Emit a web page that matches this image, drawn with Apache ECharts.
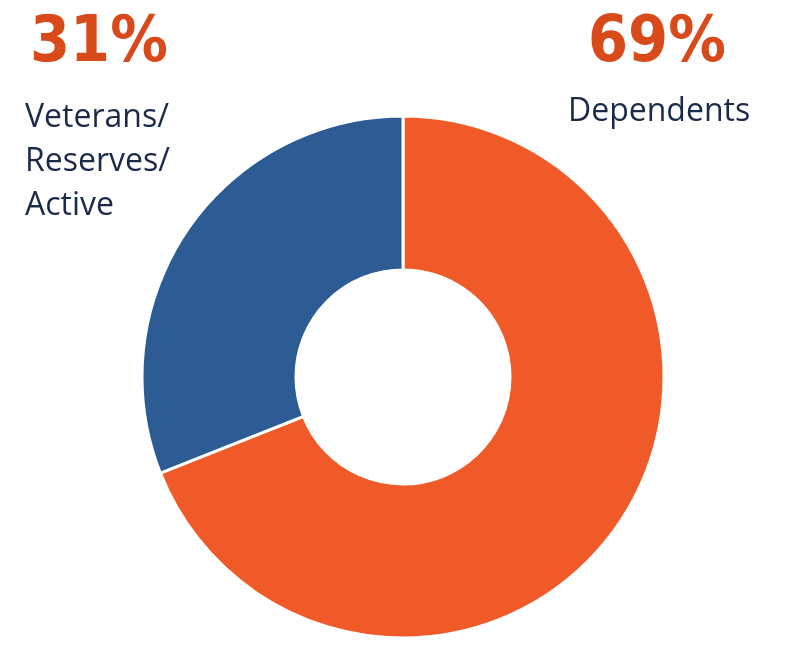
<!DOCTYPE html>
<html><head><meta charset="utf-8">
<script src="https://cdn.jsdelivr.net/npm/echarts@6/dist/echarts.min.js"></script>
<style>html,body{margin:0;padding:0;background:#fff}#c{width:800px;height:666px}</style>
</head><body><div id="c"></div>
<script>
const categories = ['Dependents', 'Veterans/\nReserves/\nActive'];
const values = [69, 31];
const colors = ['#F05A28', '#2D5B94'];
const chart = echarts.init(document.getElementById('c'));
chart.setOption({
  animation: false,
  series: [{
    type: 'pie',
    center: [403, 377],
    radius: [107, 261],
    startAngle: 90,
    clockwise: true,
    label: { show: false },
    labelLine: { show: false },
    itemStyle: { borderColor: '#fff', borderWidth: 3 },
    data: categories.map((c, i) => ({ name: c, value: values[i], itemStyle: { color: colors[i] } }))
  }],
  graphic: [
    { type: 'text', left: 30, top: 12, style: { text: values[1] + '%', font: 'bold 64px "DejaVu Sans Condensed", sans-serif', fill: '#D94A1A' } },
    { type: 'text', left: 25, top: 96, style: { text: categories[1], font: '32px "Open Sans", sans-serif', fill: '#1B2A47', align: 'center', lineHeight: 44, x: 0 } },
    { type: 'text', left: 588, top: 12, style: { text: values[0] + '%', font: 'bold 64px "DejaVu Sans Condensed", sans-serif', fill: '#D94A1A' } },
    { type: 'text', left: 568, top: 96, style: { text: categories[0], font: '32px "Open Sans", sans-serif', fill: '#1B2A47' } }
  ]
});
</script></body></html>
